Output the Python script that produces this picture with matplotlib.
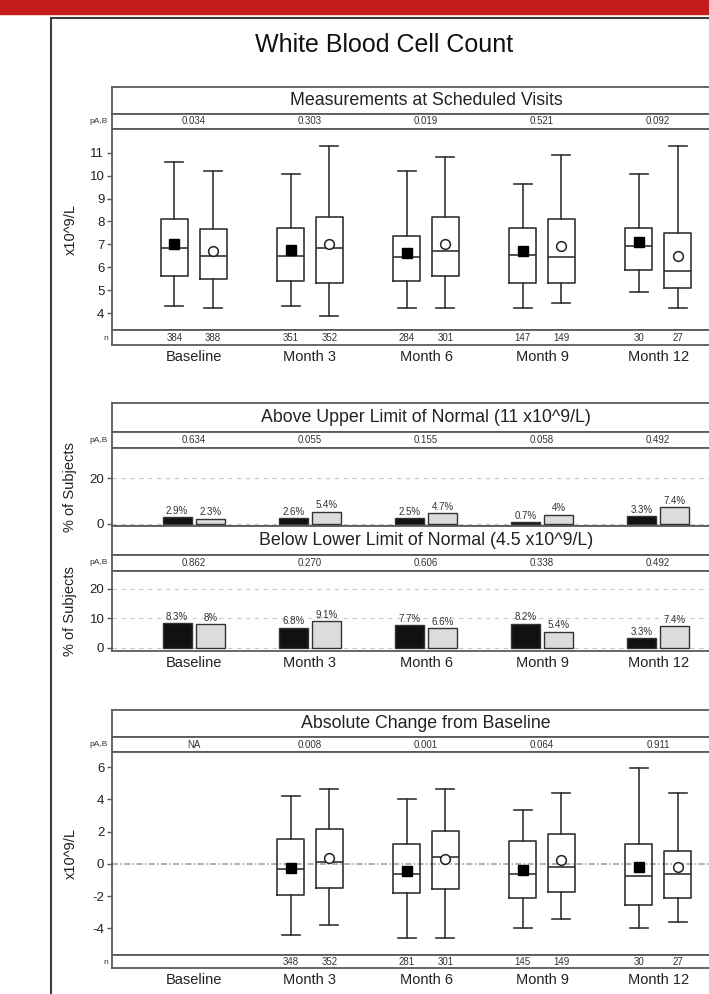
import matplotlib
matplotlib.use('Agg')
import matplotlib.pyplot as plt
from matplotlib.lines import Line2D
from matplotlib.patches import Rectangle
import numpy as np

plt.rcParams['font.family'] = ['Liberation Sans', 'DejaVu Sans']
plt.rcParams['axes.unicode_minus'] = False

# ---------------- data ----------------
visits = ['Baseline', 'Month 3', 'Month 6', 'Month 9', 'Month 12']

# Measurements at scheduled visits (x10^9/L)
meas_A_whislo = [4.31, 4.31, 4.24, 4.24, 4.91]
meas_A_q1 = [5.62, 5.40, 5.40, 5.32, 5.88]
meas_A_med = [6.83, 6.51, 6.44, 6.54, 6.93]
meas_A_q3 = [8.11, 7.70, 7.38, 7.70, 7.70]
meas_A_whishi = [10.61, 10.07, 10.20, 9.63, 10.08]
meas_A_mean = [7.00, 6.77, 6.64, 6.73, 7.12]

meas_B_whislo = [4.21, 3.89, 4.24, 4.43, 4.24]
meas_B_q1 = [5.49, 5.32, 5.61, 5.32, 5.11]
meas_B_med = [6.51, 6.83, 6.73, 6.44, 5.84]
meas_B_q3 = [7.66, 8.18, 8.18, 8.12, 7.48]
meas_B_whishi = [10.20, 11.29, 10.83, 10.90, 11.29]
meas_B_mean = [6.72, 7.02, 7.02, 6.94, 6.51]

meas_p = ['0.034', '0.303', '0.019', '0.521', '0.092']
meas_nA = ['384', '351', '284', '147', '30']
meas_nB = ['388', '352', '301', '149', '27']

# Above upper / below lower limit of normal (% of subjects)
above_A = [2.9, 2.6, 2.5, 0.7, 3.3]
above_B = [2.3, 5.4, 4.7, 4.0, 7.4]
above_A_lbl = ['2.9%', '2.6%', '2.5%', '0.7%', '3.3%']
above_B_lbl = ['2.3%', '5.4%', '4.7%', '4%', '7.4%']
above_p = ['0.634', '0.055', '0.155', '0.058', '0.492']

below_A = [8.3, 6.8, 7.7, 8.2, 3.3]
below_B = [8.0, 9.1, 6.6, 5.4, 7.4]
below_A_lbl = ['8.3%', '6.8%', '7.7%', '8.2%', '3.3%']
below_B_lbl = ['8%', '9.1%', '6.6%', '5.4%', '7.4%']
below_p = ['0.862', '0.270', '0.606', '0.338', '0.492']

# Absolute change from baseline (Baseline has no data)
chg_visits_idx = [1, 2, 3, 4]
chg_A_whislo = [-4.41, -4.58, -4.00, -4.00]
chg_A_q1 = [-1.93, -1.83, -2.14, -2.55]
chg_A_med = [-0.34, -0.63, -0.63, -0.73]
chg_A_q3 = [1.53, 1.24, 1.42, 1.24]
chg_A_whishi = [4.24, 4.01, 3.35, 5.94]
chg_A_mean = [-0.23, -0.42, -0.38, -0.21]

chg_B_whislo = [-3.81, -4.58, -3.42, -3.59]
chg_B_q1 = [-1.52, -1.56, -1.72, -2.14]
chg_B_med = [0.14, 0.45, -0.21, -0.65]
chg_B_q3 = [2.15, 2.05, 1.84, 0.82]
chg_B_whishi = [4.63, 4.63, 4.43, 4.43]
chg_B_mean = [0.37, 0.29, 0.22, -0.21]

chg_p = ['NA', '0.008', '0.001', '0.064', '0.911']
chg_nA = ['', '348', '281', '145', '30']
chg_nB = ['', '352', '301', '149', '27']

# ---------------- layout ----------------
W, H = 709, 994
DPI = 100
fig = plt.figure(figsize=(W / DPI, H / DPI), dpi=DPI)

EDGE = '#5a5a5a'
TXT = '#222222'
PL, PR = 112, 740
XL, XR = 0.295, 5.705
pos = np.arange(1, 6)
OFF_BOX = 0.167
BOXW = 0.232
OFF_BAR = 0.144
BARW = 0.25


def add_px(x0, y0, x1, y1):
    return fig.add_axes([x0 / W, 1 - y1 / H, (x1 - x0) / W, (y1 - y0) / H])


def style_frame(ax):
    for s in ax.spines.values():
        s.set_color(EDGE)
        s.set_linewidth(1.3)


def strip(y0, y1):
    ax = add_px(PL, y0, PR, y1)
    ax.set_xlim(XL, XR)
    ax.set_ylim(0, 1)
    ax.set_xticks([])
    ax.set_yticks([])
    style_frame(ax)
    return ax


def title_strip(y0, y1, text):
    ax = strip(y0, y1)
    ax.text(0.5, 0.5, text, transform=ax.transAxes, ha='center', va='center',
            fontsize=12.8, color=TXT)
    return ax


def p_strip(y0, y1, pvals):
    ax = strip(y0, y1)
    for x, p in zip(pos, pvals):
        ax.text(x, 0.5, p, ha='center', va='center', fontsize=7, color='#333333')
    ax.text(-0.006, 0.5, 'pA,B', transform=ax.transAxes, ha='right', va='center',
            fontsize=6, color='#333333')
    return ax


def n_strip(y0, y1, nA, nB, xpos):
    ax = strip(y0, y1)
    for x, a, b in zip(xpos, nA, nB):
        ax.text(x - OFF_BOX, 0.45, a, ha='center', va='center', fontsize=7, color='#333333')
        ax.text(x + OFF_BOX, 0.45, b, ha='center', va='center', fontsize=7, color='#333333')
    ax.text(-0.006, 0.45, 'n', transform=ax.transAxes, ha='right', va='center',
            fontsize=6, color='#333333')
    ax.set_xticks(pos)
    ax.set_xticklabels(visits, fontsize=10.5, color=TXT)
    ax.tick_params(axis='x', length=0, pad=3.5)
    return ax


def main_axes(y0, y1, ylim, yticks, ylabel, labx=-0.054):
    ax = add_px(PL, y0, PR, y1)
    ax.set_xlim(XL, XR)
    ax.set_ylim(*ylim)
    ax.set_xticks([])
    ax.set_yticks(yticks)
    ax.tick_params(axis='y', direction='out', length=3.5, width=1, color=EDGE,
                   labelsize=9.5, labelcolor=TXT, pad=2)
    style_frame(ax)
    ax.set_ylabel(ylabel, fontsize=10.5, color=TXT)
    ax.yaxis.set_label_coords(labx, 0.5)
    return ax


def stats_list(lo, q1, med, q3, hi, mean):
    return [dict(whislo=a, q1=b, med=c, q3=d, whishi=e, mean=f, fliers=[])
            for a, b, c, d, e, f in zip(lo, q1, med, q3, hi, mean)]


def draw_boxes(ax, stats, xpos, filled):
    lp = dict(color='#333333', linewidth=1.2)
    if filled:
        mp = dict(marker='s', markerfacecolor='black', markeredgecolor='black',
                  markersize=7)
    else:
        mp = dict(marker='o', markerfacecolor='white', markeredgecolor='#222222',
                  markeredgewidth=1.1, markersize=7)
    ax.bxp(stats, positions=xpos, widths=BOXW, showmeans=True, showfliers=False,
           boxprops=lp, whiskerprops=lp, capprops=lp, medianprops=lp,
           meanprops=mp, capwidths=0.155, manage_ticks=False, zorder=3)


# ---------------- background ----------------
fig.add_artist(Rectangle((0, 1 - 14 / H), 1, 14 / H, transform=fig.transFigure,
                         color='#C41C1C', zorder=0))
fx, fy = 50.7, 17.5
fig.add_artist(Line2D([fx / W, fx / W], [1 - fy / H, 0], transform=fig.transFigure,
                      color='#3c3c3c', linewidth=1.5))
fig.add_artist(Line2D([fx / W, 1], [1 - fy / H, 1 - fy / H], transform=fig.transFigure,
                      color='#3c3c3c', linewidth=1.5))
fig.text(384 / W, 1 - 45 / H, 'White Blood Cell Count', ha='center', va='center',
         fontsize=18, color='#111111')

# ---------------- panel 1 ----------------
title_strip(87, 114, 'Measurements at Scheduled Visits')
p_strip(114, 129, meas_p)
ax1 = main_axes(129, 330, (3.27, 12.03), range(4, 12), 'x10^9/L')
draw_boxes(ax1, stats_list(meas_A_whislo, meas_A_q1, meas_A_med, meas_A_q3,
                           meas_A_whishi, meas_A_mean), pos - OFF_BOX, True)
draw_boxes(ax1, stats_list(meas_B_whislo, meas_B_q1, meas_B_med, meas_B_q3,
                           meas_B_whishi, meas_B_mean), pos + OFF_BOX, False)
n_strip(330, 345, meas_nA, meas_nB, pos)

# ---------------- panel 2 ----------------
def bar_panel(ax, va, vb, la, lb, gridvals):
    for g in gridvals:
        ax.axhline(g, color='#c8c8c8', linestyle=(0, (4, 4)), linewidth=0.8, zorder=1)
    ca = ax.bar(pos - OFF_BAR, va, width=BARW, color='#111111', edgecolor='#333333',
                linewidth=1.0, zorder=3)
    cb = ax.bar(pos + OFF_BAR, vb, width=BARW, color='#dcdcdc', edgecolor='#333333',
                linewidth=1.0, zorder=3)
    ax.bar_label(ca, labels=la, padding=1, fontsize=7, color='#333333')
    ax.bar_label(cb, labels=lb, padding=1, fontsize=7, color='#333333')


title_strip(403, 432, 'Above Upper Limit of Normal (11 x10^9/L)')
p_strip(432, 448, above_p)
ax2a = main_axes(448, 526, (-0.9, 33.3), [0, 20], '% of Subjects', labx=-0.056)
bar_panel(ax2a, above_A, above_B, above_A_lbl, above_B_lbl, [0, 20])

title_strip(526, 555, 'Below Lower Limit of Normal (4.5 x10^9/L)')
p_strip(555, 571, below_p)
ax2b = main_axes(571, 651, (-1.1, 26.1), [0, 10, 20], '% of Subjects', labx=-0.056)
bar_panel(ax2b, below_A, below_B, below_A_lbl, below_B_lbl, [0, 10, 20])
ax2b.set_xticks(pos)
ax2b.set_xticklabels(visits, fontsize=10.5, color=TXT)
ax2b.tick_params(axis='x', length=0, pad=3.5)

# ---------------- panel 3 ----------------
title_strip(710, 737, 'Absolute Change from Baseline')
p_strip(737, 752, chg_p)
ax3 = main_axes(752, 955, (-5.66, 6.95), range(-4, 7, 2), 'x10^9/L')
ax3.axhline(0, color='#9a9a9a', linestyle=(0, (4, 1.5, 1, 1.5)), linewidth=1.1, zorder=1)
cpos = pos[chg_visits_idx]
draw_boxes(ax3, stats_list(chg_A_whislo, chg_A_q1, chg_A_med, chg_A_q3,
                           chg_A_whishi, chg_A_mean), cpos - OFF_BOX, True)
draw_boxes(ax3, stats_list(chg_B_whislo, chg_B_q1, chg_B_med, chg_B_q3,
                           chg_B_whishi, chg_B_mean), cpos + OFF_BOX, False)
n_strip(955, 968, chg_nA, chg_nB, pos)

fig.savefig('out.png', dpi=DPI)
